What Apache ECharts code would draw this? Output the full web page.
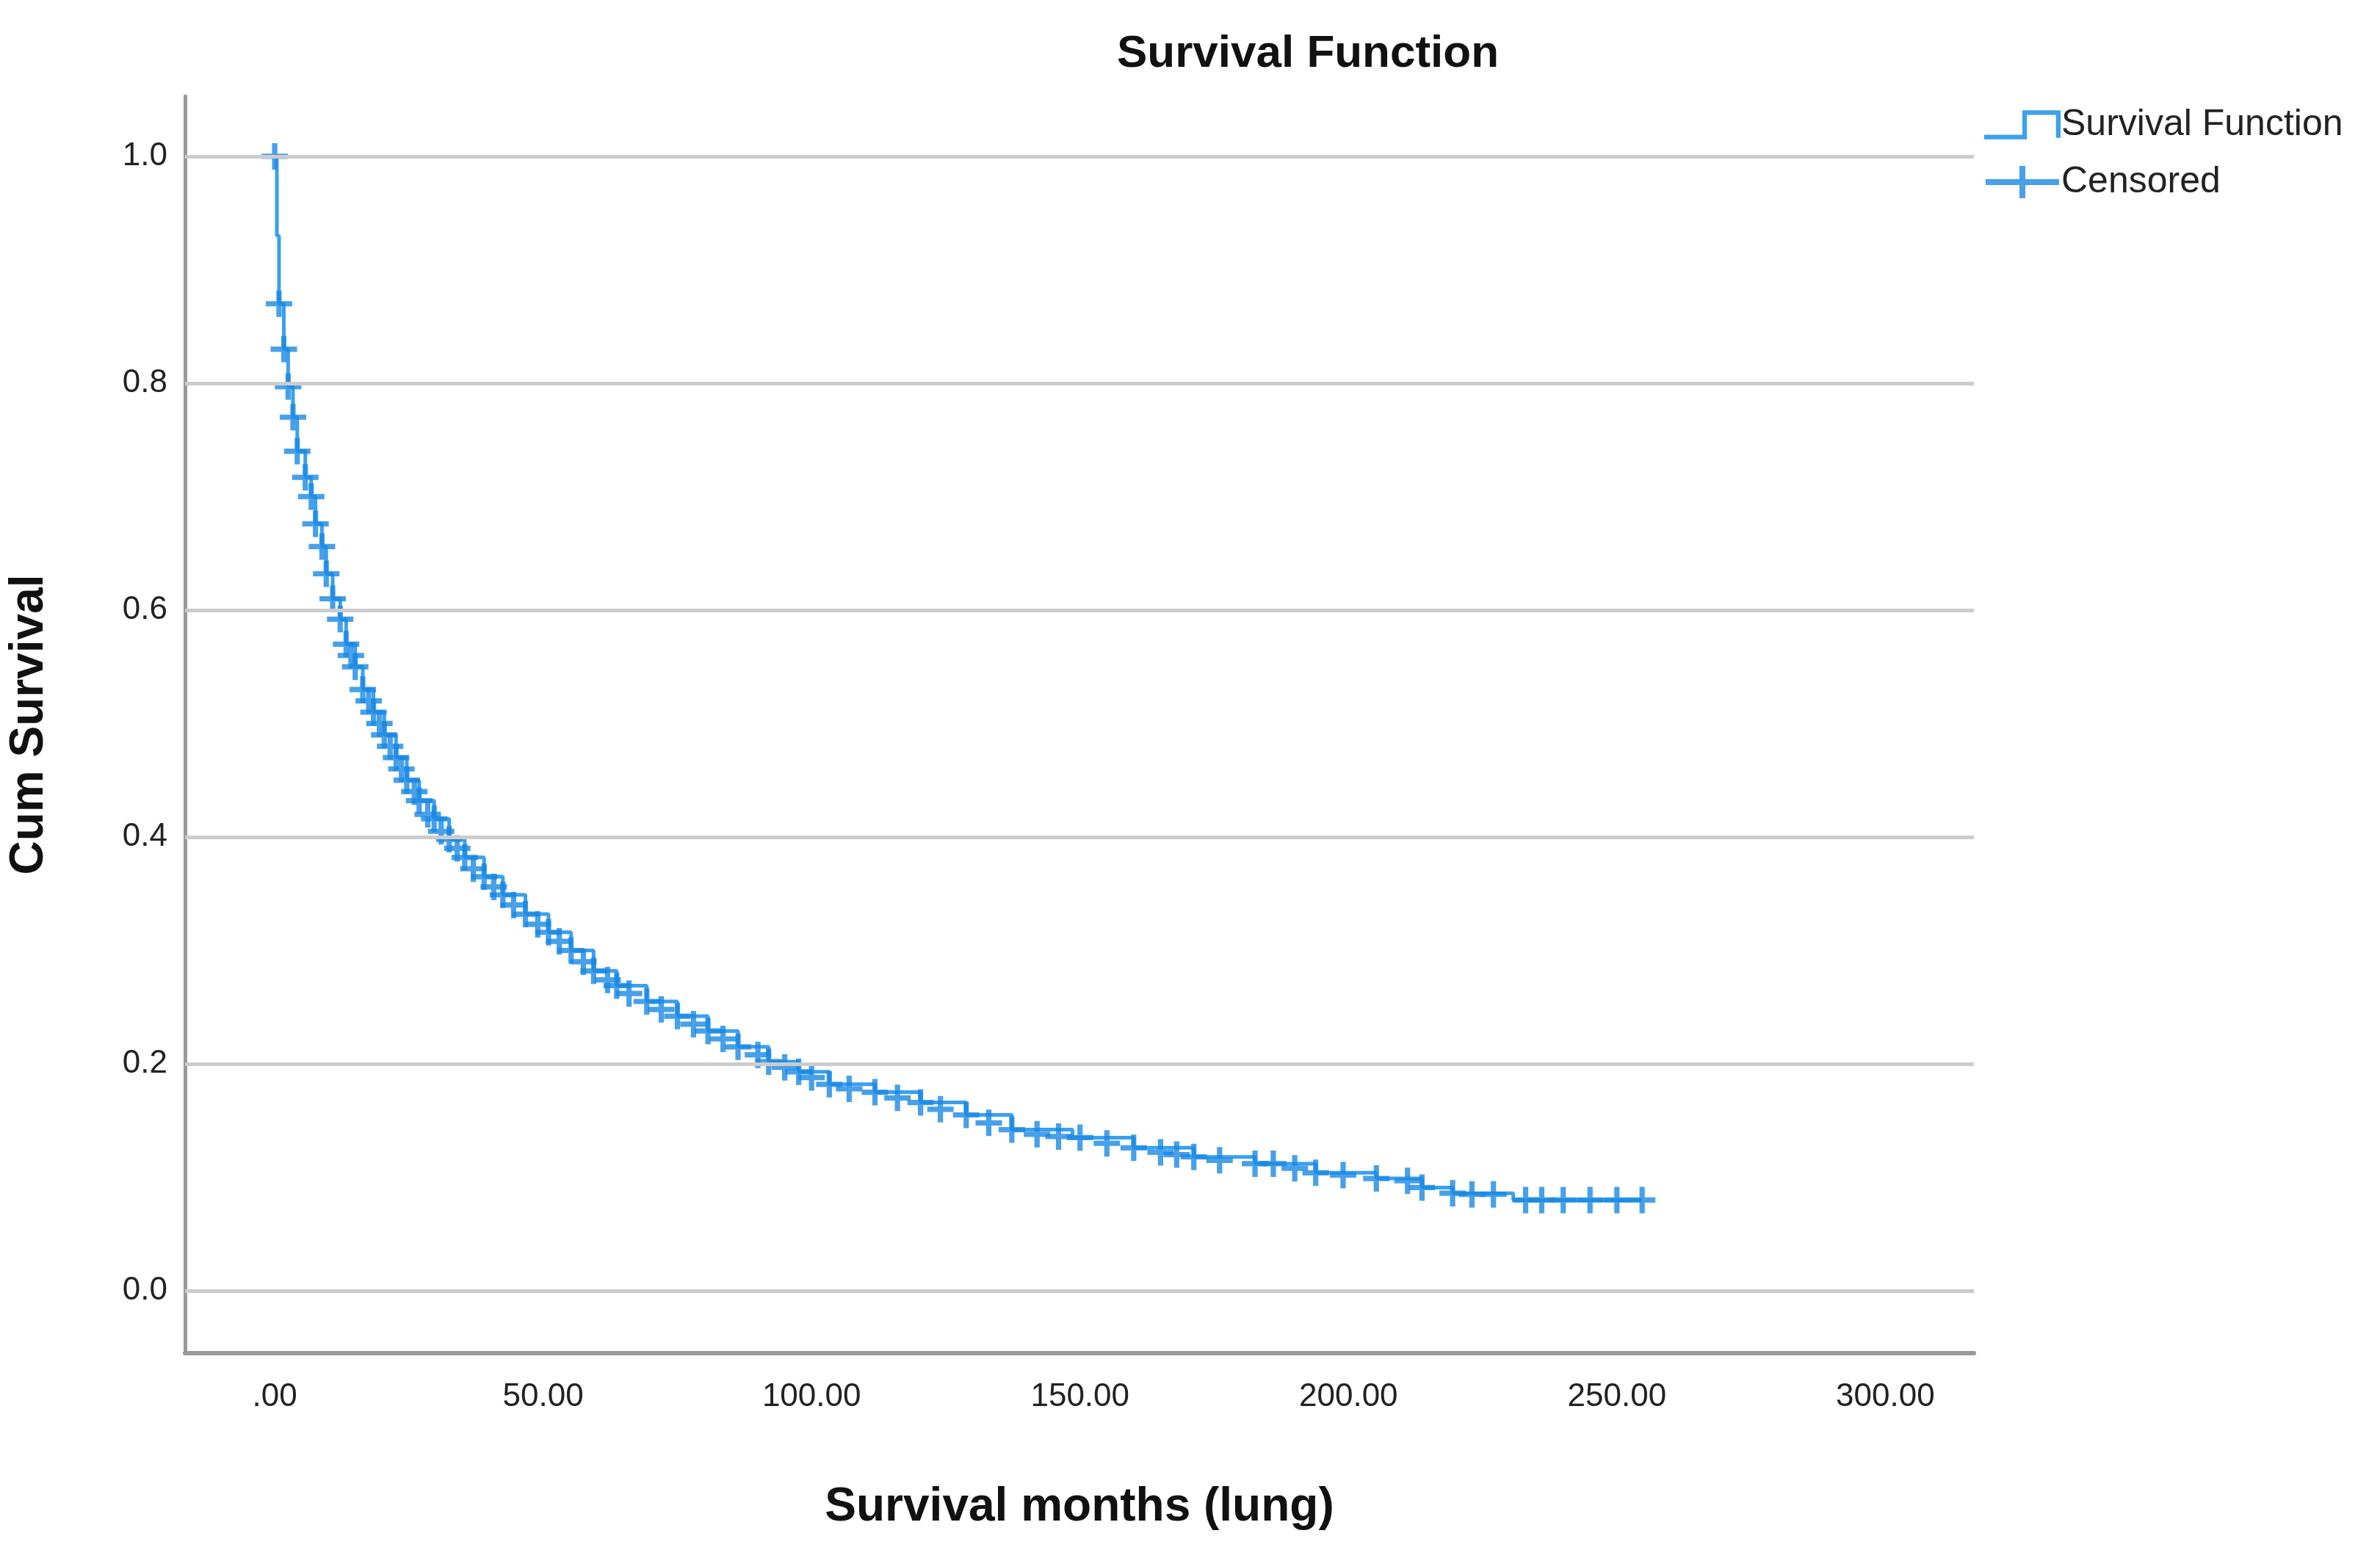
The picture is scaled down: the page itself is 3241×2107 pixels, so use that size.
<!DOCTYPE html>
<html><head><meta charset="utf-8">
<script src="https://cdn.jsdelivr.net/npm/echarts@6/dist/echarts.min.js"></script>
<style>html,body{margin:0;padding:0;background:#fff}#c{width:3241px;height:2107px}</style>
</head><body><div id="c"></div>
<script>
const xTicks = [0, 50, 100, 150, 200, 250, 300];
const yTicks = [0, 0.2, 0.4, 0.6, 0.8, 1.0];
const survTimes = [0, 0.4, 0.8, 1.7, 2.5, 3.4, 4.2, 5.7, 6.8, 7.6, 8.8, 9.6, 10.8, 12.2, 13.3, 15, 16.4, 18.4, 20.4, 22.6, 24.6, 26.9, 29.7, 32.5, 35.4, 39, 42.5, 46.7, 51, 55.2, 59.4, 63.7, 69.3, 75, 80.7, 86.3, 92, 97.6, 103.3, 111.8, 120.3, 128.8, 137.3, 148.6, 160, 171.2, 182.6, 193.9, 205.2, 213.7, 219.4, 230.7, 254.7];
const survValues = [1.0, 0.93, 0.87, 0.83, 0.797, 0.77, 0.74, 0.717, 0.70, 0.676, 0.656, 0.632, 0.61, 0.592, 0.57, 0.55, 0.53, 0.51, 0.49, 0.47, 0.45, 0.432, 0.416, 0.398, 0.382, 0.365, 0.349, 0.332, 0.316, 0.30, 0.282, 0.269, 0.255, 0.242, 0.229, 0.215, 0.202, 0.193, 0.182, 0.175, 0.166, 0.155, 0.142, 0.135, 0.126, 0.118, 0.112, 0.104, 0.099, 0.091, 0.086, 0.08, 0.08];
const censTimes = [0, 0.8, 1.7, 2.5, 3.4, 4.2, 5.7, 6.8, 7.6, 8.8, 9.6, 10.8, 12.2, 13.3, 14.2, 15, 16.4, 17.5, 18.4, 19.5, 20.4, 21.5, 22.6, 23.6, 24.6, 26, 26.9, 28.5, 29.7, 31, 32.5, 34, 35.4, 37, 39, 40.8, 42.5, 44.5, 46.7, 49, 51, 53, 55.2, 57.5, 59.4, 62, 63.7, 66, 69.3, 72, 75, 78, 80.7, 83.5, 86.3, 90, 92, 95, 97.6, 100, 103.3, 107, 111.8, 116, 120.3, 124, 128.8, 133, 137.3, 142, 146, 150, 155, 160, 165, 168, 171.2, 176, 182.6, 186, 190, 193.9, 199, 205.2, 211, 213.7, 219.4, 223, 227, 233, 236, 240, 245, 250, 254.7];
const censValues = [1.0, 0.87, 0.83, 0.797, 0.77, 0.74, 0.717, 0.70, 0.676, 0.656, 0.632, 0.61, 0.592, 0.57, 0.56, 0.55, 0.53, 0.52, 0.51, 0.5, 0.49, 0.48, 0.47, 0.46, 0.45, 0.44, 0.432, 0.42, 0.416, 0.405, 0.398, 0.39, 0.382, 0.372, 0.365, 0.356, 0.349, 0.34, 0.332, 0.323, 0.316, 0.308, 0.30, 0.29, 0.282, 0.274, 0.269, 0.262, 0.255, 0.248, 0.242, 0.235, 0.229, 0.222, 0.215, 0.208, 0.202, 0.197, 0.193, 0.188, 0.182, 0.178, 0.175, 0.17, 0.166, 0.16, 0.155, 0.148, 0.142, 0.138, 0.136, 0.135, 0.13, 0.126, 0.122, 0.12, 0.118, 0.115, 0.112, 0.112, 0.108, 0.104, 0.102, 0.099, 0.097, 0.091, 0.086, 0.085, 0.085, 0.08, 0.08, 0.08, 0.08, 0.08, 0.08];

const cross = 'path://M-1,-0.2H1V0.2H-1Z M-0.2,-1H0.2V1H-0.2Z';
const legendCross = 'path://M0,18H100V26H0Z M46,0H54V44H46Z';
const stepIcon = 'path://M0,36H50V4H100V40H94V10H56V42H0Z';
const chart = echarts.init(document.getElementById('c'));
chart.setOption({
  animation: false,
  backgroundColor: '#fff',
  title: { text: 'Survival Function', left: 1776, top: 38, textAlign: 'center',
    textStyle: { fontFamily: 'Liberation Sans, Arial', fontWeight: 'bold', fontSize: 62, color: '#111' } },
  legend: { orient: 'vertical', left: 2697, top: 140, itemWidth: 104, itemHeight: 44, itemGap: 28,
    textStyle: { fontFamily: 'Liberation Sans, Arial', fontSize: 50, color: '#222', padding: [0, 0, 0, -4] },
    data: [{ name: 'Survival Function', icon: stepIcon }, { name: 'Censored', icon: legendCross }] },
  grid: { left: 239, right: 553, top: 131, bottom: 264 },
  xAxis: { type: 'value', min: -16.7, max: 316.5,
    name: 'Survival months (lung)', nameLocation: 'middle', nameGap: 178,
    nameTextStyle: { fontFamily: 'Liberation Sans, Arial', fontWeight: 'bold', fontSize: 64, color: '#111' },
    axisLine: { onZero: false, lineStyle: { color: '#999', width: 6 } },
    axisTick: { show: false }, splitLine: { show: false },
    axisLabel: { customValues: xTicks, margin: 38, fontFamily: 'Liberation Sans, Arial', fontSize: 44, color: '#222',
      formatter: v => v === 0 ? '.00' : v.toFixed(2) } },
  yAxis: { type: 'value', min: -0.055, max: 1.053,
    name: 'Cum Survival', nameLocation: 'middle', nameGap: 180, nameRotate: 90,
    nameTextStyle: { fontFamily: 'Liberation Sans, Arial', fontWeight: 'bold', fontSize: 64, color: '#111' },
    axisLine: { onZero: false, lineStyle: { color: '#999', width: 5 } },
    axisTick: { show: false }, splitLine: { show: false },
    axisLabel: { customValues: yTicks, margin: 24, fontFamily: 'Liberation Sans, Arial', fontSize: 44, color: '#222',
      formatter: v => v.toFixed(1) } },
  series: [
    { name: 'Survival Function', type: 'line', step: 'end', symbol: 'none',
      data: survTimes.map((t, i) => [t, survValues[i]]),
      lineStyle: { color: '#3ba0ee', width: 5 }, itemStyle: { color: '#3ba0ee' },
      markLine: { silent: true, symbol: 'none', label: { show: false },
        lineStyle: { color: '#cccccc', width: 5, type: 'solid' },
        data: yTicks.map(v => ({ yAxis: v })) }, z: 3 },
    { name: 'Censored', type: 'scatter', symbol: cross, symbolSize: 36,
      data: censTimes.map((t, i) => [t, censValues[i]]),
      itemStyle: { color: '#1a88e3' }, z: 4 }
  ]
});
</script></body></html>
